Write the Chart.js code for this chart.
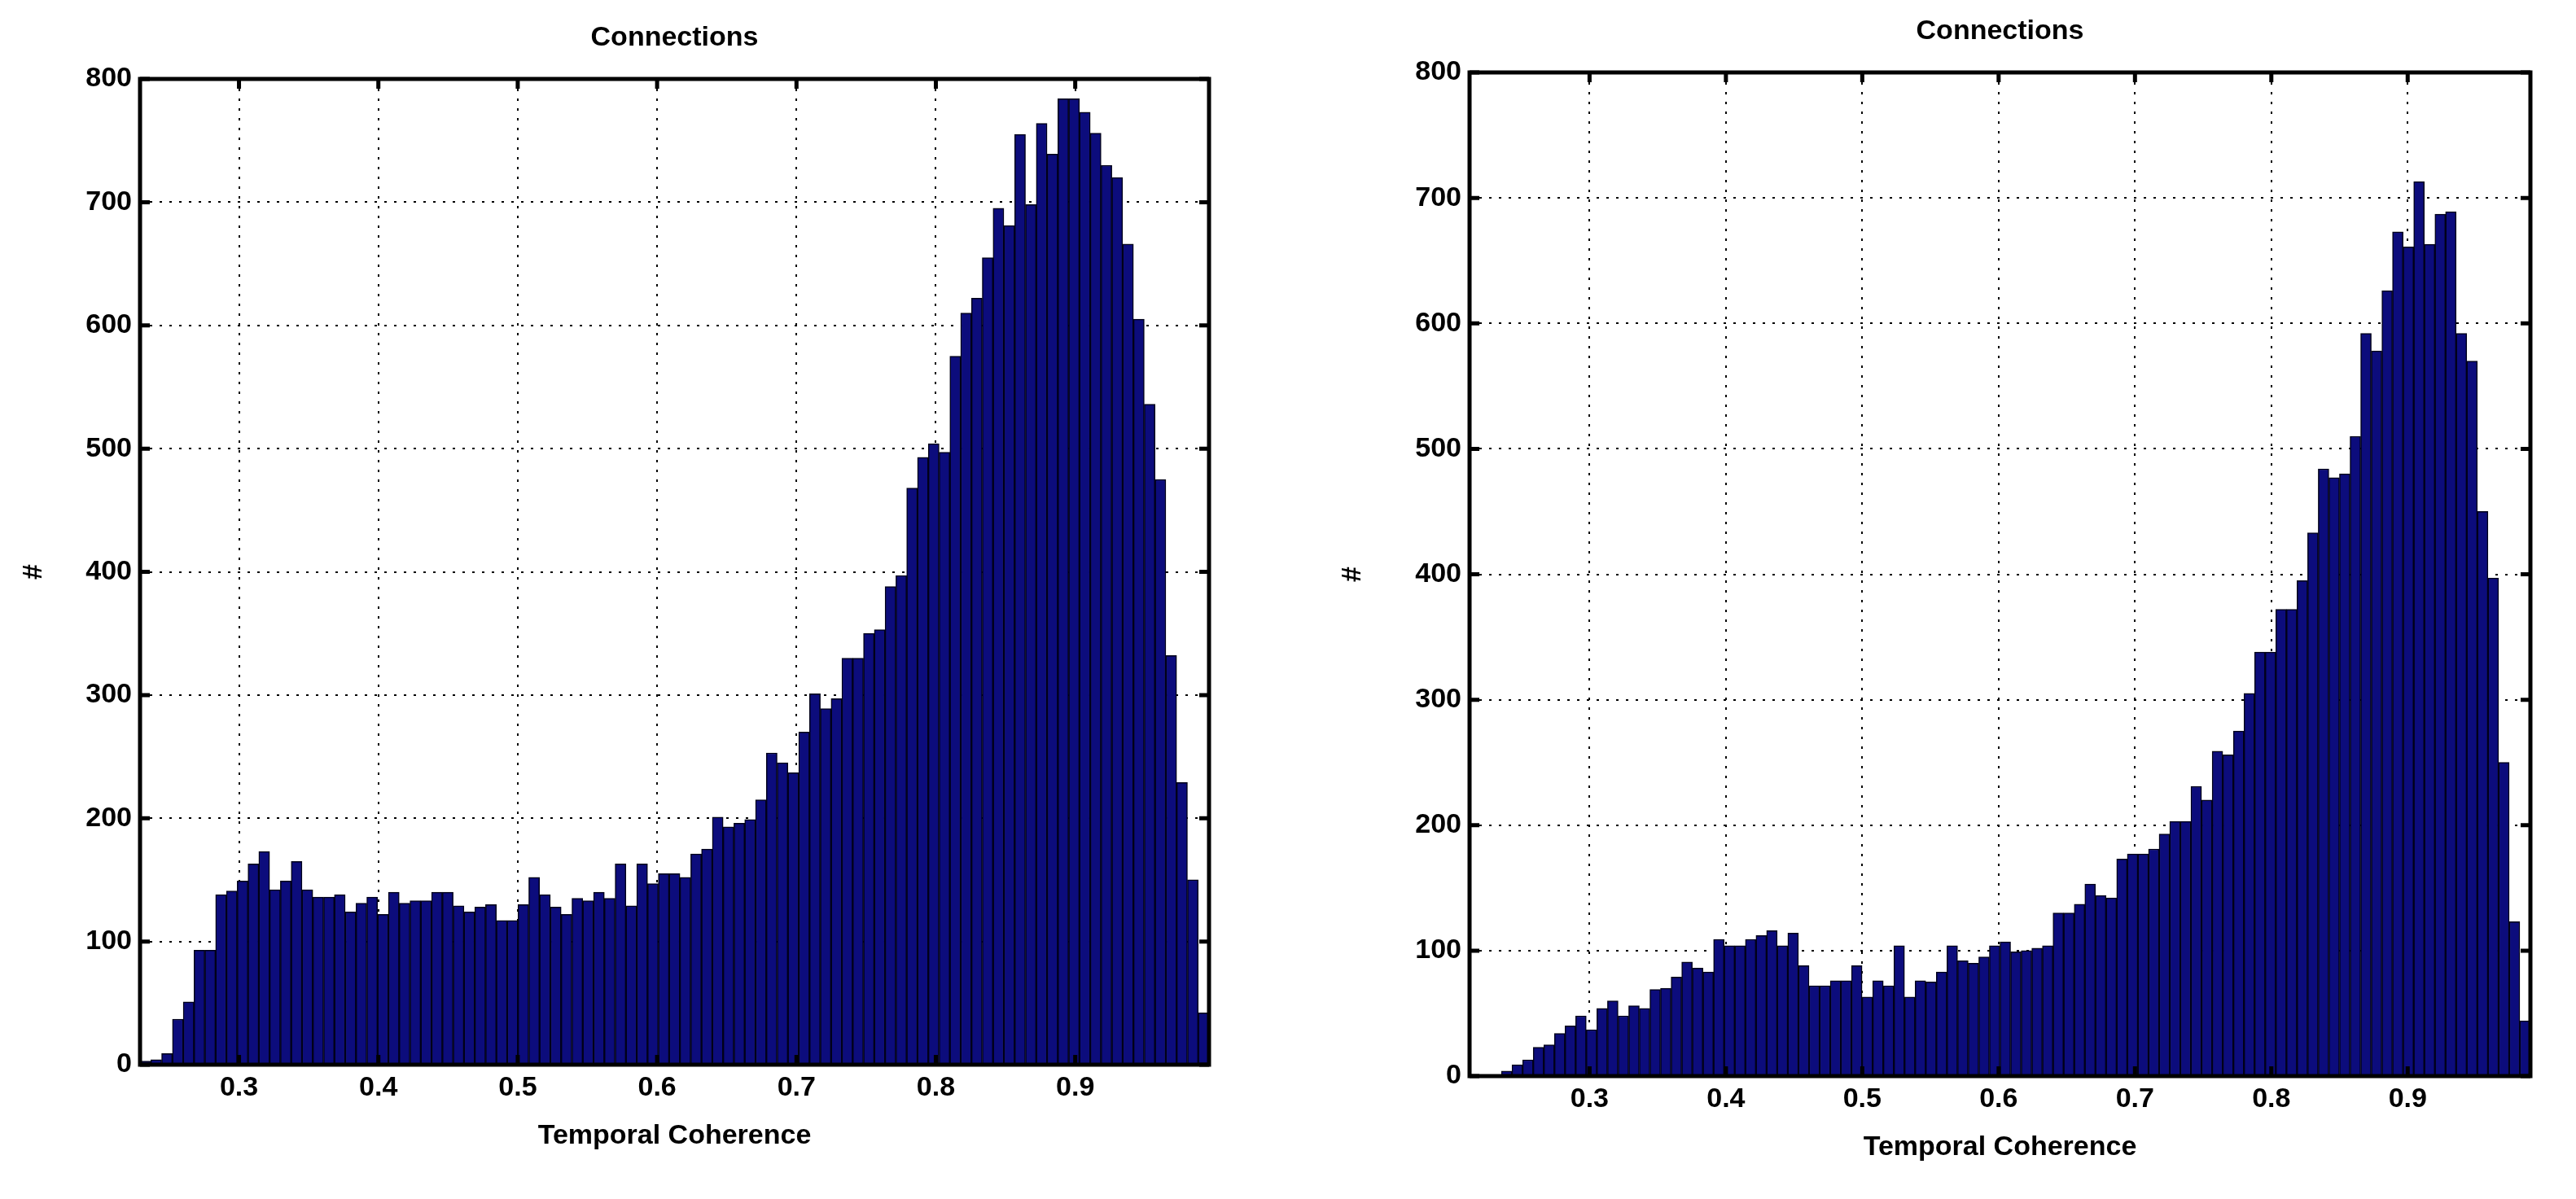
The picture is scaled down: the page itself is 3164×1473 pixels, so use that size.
<!DOCTYPE html>
<html><head><meta charset="utf-8">
<script src="https://cdn.jsdelivr.net/npm/chart.js@4"></script>
<style>
html,body{margin:0;padding:0;background:#fff;width:3164px;height:1473px;overflow:hidden}
.w{position:absolute;top:0;height:1473px}
</style></head><body>
<div class="w" style="left:0;width:1582px"><canvas id="c1"></canvas></div>
<div class="w" style="left:1582px;width:1582px"><canvas id="c2"></canvas></div>
<script>
const titleText = "Connections";
const xTitle = "Temporal Coherence";
const yTitle = "#";
const xTicks = [0.3,0.4,0.5,0.6,0.7,0.8,0.9];
const yTicks = [0,100,200,300,400,500,600,700,800];
const leftRange = [0.229, 0.996];
const rightRange = [0.212, 0.99];
const leftCounts = [3,4,9,37,51,93,93,138,141,149,163,173,142,149,165,142,136,136,138,124,131,136,122,140,131,133,133,140,140,129,124,128,130,117,117,130,152,138,128,122,135,133,140,135,163,129,163,147,155,155,152,171,
175,201,193,196,199,215,253,245,237,270,301,289,297,330,330,350,353,388,397,468,493,504,497,575,610,622,655,695,681,755,698,764,739,784,784,773,756,730,720,666,605,536,475,332,229,150,42];
const rightCounts = [0,0,1,4,9,13,23,25,34,40,48,37,54,60,48,56,54,69,70,79,91,86,83,109,104,104,109,112,116,104,114,88,72,72,76,76,88,63,76,72,104,63,76,75,83,104,92,90,95,104,107,99,
100,102,104,130,130,137,153,144,142,173,177,177,181,193,203,203,231,220,259,256,275,305,338,338,372,372,395,433,484,477,480,510,592,578,626,673,661,713,663,687,689,592,570,450,397,250,123,44];

function toPoints(counts, range){
  const w=(range[1]-range[0])/counts.length;
  return counts.map((c,i)=>({x:range[0]+w*(i+0.5), y:c}));
}
const FONT='"Liberation Sans", Arial, sans-serif';
const framePlugin={id:'frame',afterDraw(ch){
  const a=ch.chartArea,ctx=ch.ctx;ctx.save();
  ctx.strokeStyle='#000';
  const xs=ch.scales.x, ys=ch.scales.y;
  ctx.lineWidth=5;
  xTicks.forEach(t=>{const px=xs.getPixelForValue(t);ctx.beginPath();ctx.moveTo(px,a.bottom);ctx.lineTo(px,a.bottom-12);ctx.moveTo(px,a.top);ctx.lineTo(px,a.top+12);ctx.stroke();});
  yTicks.forEach(t=>{const py=ys.getPixelForValue(t);ctx.beginPath();ctx.moveTo(a.left,py);ctx.lineTo(a.left+12,py);ctx.moveTo(a.right,py);ctx.lineTo(a.right-12,py);ctx.stroke();});
  ctx.strokeRect(a.left,a.top,a.right-a.left,a.bottom-a.top);
  ctx.fillStyle='#000';ctx.font='bold 34px '+FONT;ctx.textAlign='center';ctx.textBaseline='middle';
  ctx.fillText(titleText,(a.left+a.right)/2,a.top-50);
  ctx.fillText(xTitle,(a.left+a.right)/2,a.bottom+88);
  ctx.translate(ch.options.yTitleX,(a.top+a.bottom)/2);ctx.rotate(-Math.PI/2);ctx.fillText(yTitle,0,0);
  ctx.restore();
}};
function make(id, counts, range, pad, yw, yTitleX){
  new Chart(document.getElementById(id),{
    type:'bar',
    data:{datasets:[{data:toPoints(counts,range),backgroundColor:'#0c0c7c',borderColor:'#000018',borderWidth:1.5,barPercentage:1,categoryPercentage:1,grouped:false}]},
    options:{responsive:true,maintainAspectRatio:false,animation:false,yTitleX:yTitleX,
      layout:{padding:{top:pad.top,right:pad.right,left:0,bottom:0}},
      plugins:{legend:{display:false},tooltip:{enabled:false}},
      scales:{
        x:{type:'linear',min:range[0],max:range[1],offset:false,
          afterBuildTicks:s=>{s.ticks=xTicks.map(v=>({value:v}));},
          afterFit:s=>{s.height=pad.bottom;},
          ticks:{color:'#000',font:{family:FONT,size:34,weight:'bold'},padding:8,callback:v=>v.toFixed(1)},
          grid:{color:'#000',lineWidth:2,drawTicks:false,offset:false},border:{display:false,dash:[3,9]}},
        y:{min:0,max:800,
          afterBuildTicks:s=>{s.ticks=yTicks.map(v=>({value:v}));},
          afterFit:s=>{s.width=yw;},
          ticks:{color:'#000',font:{family:FONT,size:34,weight:'bold'},padding:10},
          grid:{color:'#000',lineWidth:2,drawTicks:false},border:{display:false,dash:[3,9]}}
      }},
    plugins:[framePlugin]
  });
}
make('c1',leftCounts,leftRange,{top:97,right:97,bottom:165},172,42);
make('c2',rightCounts,rightRange,{top:89,right:56,bottom:151},223,80);
</script></body></html>
